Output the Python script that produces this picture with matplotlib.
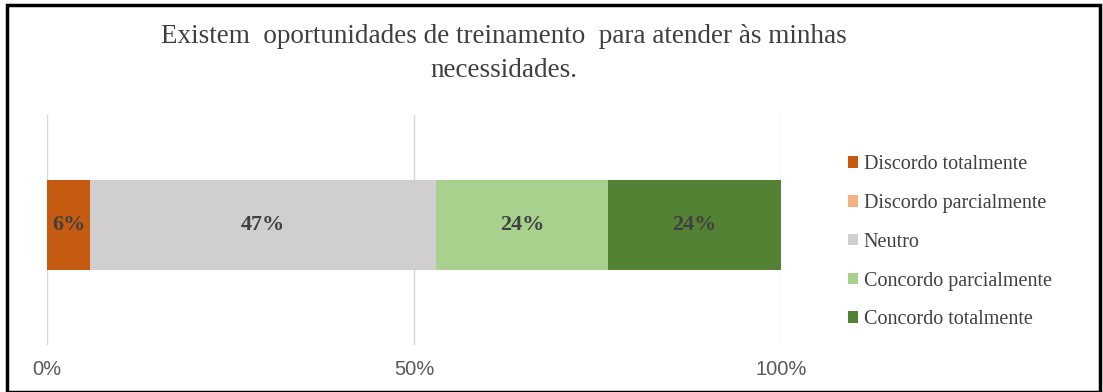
import matplotlib
matplotlib.use("Agg")
from matplotlib import pyplot as plt
from matplotlib.patches import Rectangle

# answers per category (share of total is what gets drawn)
categories = ["Discordo totalmente", "Discordo parcialmente", "Neutro",
              "Concordo parcialmente", "Concordo totalmente"]
counts = [1, 0, 8, 4, 4]
colors = ["#C55A11", "#F4B183", "#D0CECE", "#A9D18E", "#548235"]
tick_values = [0, 0.5, 1.0]
tick_labels = ["0%", "50%", "100%"]
title = "Existem  oportunidades de treinamento  para atender às minhas\nnecessidades."

total = sum(counts)
shares = [c / total for c in counts]

fig = plt.figure(figsize=(11.03, 3.92), dpi=100)
ax = fig.add_axes([0.0426, 0.12, 0.6655, 0.587])

left = 0
for name, share, col in zip(categories, shares, colors):
    ax.barh(0, share, left=left, height=0.39, color=col, label=name, zorder=2)
    if share > 0:
        ax.text(left + share / 2, 0, f"{share:.0%}", ha="center", va="center",
                fontsize=16, fontweight="bold", family="Liberation Serif",
                color="#404040", zorder=3)
    left += share

ax.set_xlim(0, 1)
ax.set_ylim(-0.522, 0.478)
ax.set_yticks([])
ax.set_xticks(tick_values)
ax.set_xticklabels(tick_labels, family="Liberation Sans", fontsize=14.5, color="#595959")
ax.tick_params(axis="x", length=0, pad=11)
ax.grid(axis="x", color="#D9D9D9", linewidth=1, zorder=0)
for s in ax.spines.values():
    s.set_visible(False)

fig.text(0.457, 0.864, title, ha="center", va="center", fontsize=19.5,
         family="Liberation Serif", color="#404040", linespacing=1.5)

fig.legend(loc="upper left", bbox_to_anchor=(0.752, 0.65), frameon=False,
           prop={"family": "Liberation Serif", "size": 14.5},
           handlelength=0.5, handleheight=0.5, handletextpad=0.3,
           labelspacing=0.98, labelcolor="#404040")

# outer frame around the whole chart
fig.patches.append(Rectangle((0.0065, 0.0), 0.991, 0.987, transform=fig.transFigure,
                             fill=False, edgecolor="black", linewidth=2.5))

fig.savefig("out.png", dpi=100)
